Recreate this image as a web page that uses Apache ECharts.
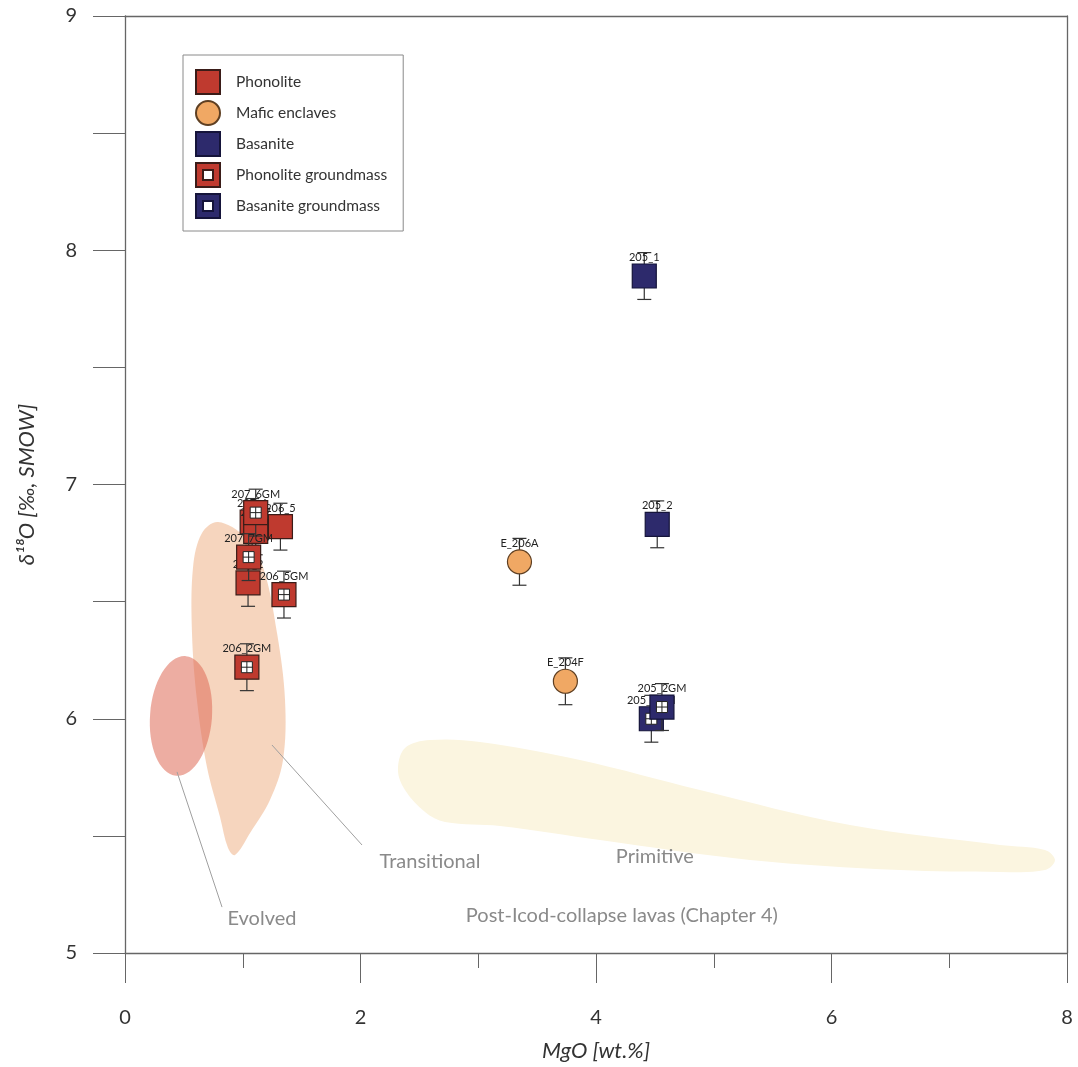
<!DOCTYPE html>
<html>
<head>
<meta charset="utf-8">
<script src="https://cdn.jsdelivr.net/npm/echarts@6/dist/echarts.min.js"></script>
<style>html,body{margin:0;padding:0;background:#fff}#c{width:1078px;height:1067px}</style>
</head>
<body>
<div id="c"></div>
<script>
// ---- data (MgO wt.%, d18O permil) ----
const phonoliteLabels = ['207_6', '207_7', '206_5', '207_2'];
const phonoliteMgO    = [1.08, 1.11, 1.32, 1.045];
const phonoliteD18O   = [6.84, 6.80, 6.82, 6.58];
const phonoliteErr    = [0.1, 0.1, 0.1, 0.1];

const phonoliteGMLabels = ['207_6GM', '207_7GM', '206_5GM', '206_2GM'];
const phonoliteGMMgO    = [1.11, 1.05, 1.35, 1.035];
const phonoliteGMD18O   = [6.88, 6.69, 6.53, 6.22];
const phonoliteGMErr    = [0.1, 0.1, 0.1, 0.1];

const maficLabels = ['E_206A', 'E_204F'];
const maficMgO    = [3.35, 3.74];
const maficD18O   = [6.67, 6.16];
const maficErr    = [0.1, 0.1];

const basaniteLabels = ['205_1', '205_2'];
const basaniteMgO    = [4.41, 4.52];
const basaniteD18O   = [7.89, 6.83];
const basaniteErr    = [0.1, 0.1];

const basaniteGMLabels = ['205_1GM', '205_2GM'];
const basaniteGMMgO    = [4.47, 4.56];
const basaniteGMD18O   = [6.00, 6.05];
const basaniteGMErr    = [0.1, 0.1];

// ---- field outlines (MgO, d18O) ----
const transitionalOutline = [
  [0.79,6.84],[1.02,6.776],[1.172,6.648],[1.291,6.366],[1.359,6.08],[1.342,5.824],
  [1.231,5.653],[1.062,5.512],[0.934,5.418],[0.875,5.448],[0.807,5.581],[0.696,5.794],
  [0.611,6.08],[0.569,6.366],[0.578,6.648],[0.654,6.793]
];
const primitiveOutline = [
  [2.318,5.781],[2.378,5.875],[2.59,5.909],[3.015,5.901],[3.864,5.824],[4.883,5.696],
  [6.157,5.546],[7.431,5.461],[7.813,5.44],[7.898,5.397],[7.813,5.354],[7.431,5.346],
  [6.582,5.354],[5.308,5.397],[4.034,5.482],[3.185,5.542],[2.718,5.559],[2.548,5.602],[2.378,5.696]
];
const evolvedCenter = [0.476, 6.012];
const evolvedRadii  = [0.263, 0.256];

const fieldLabels    = ['Transitional', 'Primitive', 'Evolved', 'Post-Icod-collapse lavas (Chapter 4)'];
const fieldLabelPos  = [[2.59,5.389],[4.50,5.41],[1.163,5.149],[4.22,5.162]];
const leaderLines    = [[[0.442,5.773],[0.824,5.196]], [[1.248,5.888],[2.013,5.461]]];

const FONT = 'Lato, "Open Sans", sans-serif';
const AX = '#666';

function pointSeries(name, labels, xs, ys, errs, kind, fill, stroke) {
  return {
    type: 'custom', name: name, coordinateSystem: 'cartesian2d',
    itemStyle: {color: fill, borderColor: stroke, borderWidth: 1.2},
    data: xs.map((x, i) => ({value: [x, ys[i]], name: labels[i]})),
    renderItem: function (params, api) {
      const i = params.dataIndex;
      const x = api.value(0), y = api.value(1);
      const p = api.coord([x, y]);
      const t = api.coord([x, y + errs[i]]);
      const b = api.coord([x, y - errs[i]]);
      const s = 24, h = s / 2, cap = 7;
      const ls = {stroke: '#333', lineWidth: 1.2};
      const ch = [
        {type: 'line', shape: {x1: p[0], y1: t[1], x2: p[0], y2: b[1]}, style: ls},
        {type: 'line', shape: {x1: p[0] - cap, y1: t[1], x2: p[0] + cap, y2: t[1]}, style: ls},
        {type: 'line', shape: {x1: p[0] - cap, y1: b[1], x2: p[0] + cap, y2: b[1]}, style: ls}
      ];
      if (kind === 'circle') {
        ch.push({type: 'circle', shape: {cx: p[0], cy: p[1], r: h}, style: {fill: fill, stroke: stroke, lineWidth: 1.2}});
      } else {
        ch.push({type: 'rect', shape: {x: p[0] - h, y: p[1] - h, width: s, height: s}, style: {fill: fill, stroke: stroke, lineWidth: 1.2}});
      }
      if (kind === 'gm') {
        const q = 5.5;
        ch.push({type: 'rect', shape: {x: p[0] - q, y: p[1] - q, width: 2 * q, height: 2 * q}, style: {fill: '#fff', stroke: '#222', lineWidth: 1}});
        ch.push({type: 'line', shape: {x1: p[0], y1: p[1] - q, x2: p[0], y2: p[1] + q}, style: {stroke: '#222', lineWidth: 1}});
        ch.push({type: 'line', shape: {x1: p[0] - q, y1: p[1], x2: p[0] + q, y2: p[1]}, style: {stroke: '#222', lineWidth: 1}});
      }
      ch.push({type: 'text', x: p[0], y: p[1] - h - 1,
        style: {text: labels[i], fill: '#222', fontSize: 11, fontFamily: FONT, align: 'center', verticalAlign: 'bottom'}});
      return {type: 'group', children: ch};
    }
  };
}

const RED = '#BF3A2F', RED_B = '#3a1c18';
const NAVY = '#2D2A6C', NAVY_B = '#15143a';
const ORANGE = '#F0A864', ORANGE_B = '#5e3f22';

const option = {
  animation: false,
  backgroundColor: '#fff',
  grid: {left: 125, right: 11, top: 16, bottom: 114},
  legend: {
    orient: 'vertical', left: 183, top: 55,
    padding: [14, 16, 12, 12], itemGap: 5, itemWidth: 24, itemHeight: 24,
    borderColor: '#8a8a8a', borderWidth: 1, backgroundColor: '#fff',
    textStyle: {fontSize: 15.5, color: '#333', fontFamily: FONT, padding: [0, 0, 0, 11]},
    selectedMode: false,
    data: [
      {name: 'Phonolite', icon: 'rect'},
      {name: 'Mafic enclaves', icon: 'circle'},
      {name: 'Basanite', icon: 'rect'},
      {name: 'Phonolite groundmass', icon: 'path://M0,0H24V24H0Z M7,7V17H17V7Z'},
      {name: 'Basanite groundmass', icon: 'path://M0,0H24V24H0Z M7,7V17H17V7Z'}
    ]
  },
  xAxis: [{
    type: 'value', min: 0, max: 8, interval: 2,
    axisLine: {show: true, onZero: false, lineStyle: {color: AX, width: 1.3}},
    axisTick: {show: true, length: 30, lineStyle: {color: AX, width: 1}},
    minorTick: {show: true, splitNumber: 2, length: 15, lineStyle: {color: AX, width: 1}},
    splitLine: {show: false}, minorSplitLine: {show: false},
    axisLabel: {margin: 55, fontSize: 20, color: '#333', fontFamily: FONT},
    name: 'MgO [wt.%]', nameLocation: 'middle', nameGap: 87,
    nameTextStyle: {fontSize: 22, fontStyle: 'italic', color: '#333', fontFamily: FONT}
  }, {
    type: 'value', position: 'top', min: 0, max: 8,
    axisLine: {show: true, onZero: false, lineStyle: {color: AX, width: 1.3}},
    axisTick: {show: false}, axisLabel: {show: false}, splitLine: {show: false}
  }],
  yAxis: [{
    type: 'value', min: 5, max: 9, interval: 1,
    axisLine: {show: true, onZero: false, lineStyle: {color: AX, width: 1.3}},
    axisTick: {show: true, length: 32, lineStyle: {color: AX, width: 1}},
    minorTick: {show: true, splitNumber: 2, length: 32, lineStyle: {color: AX, width: 1}},
    splitLine: {show: false}, minorSplitLine: {show: false},
    axisLabel: {margin: 48, fontSize: 20, color: '#333', fontFamily: FONT},
    name: 'δ¹⁸O [‰, SMOW]', nameLocation: 'middle', nameGap: 87, nameRotate: 90,
    nameTextStyle: {fontSize: 22, fontStyle: 'italic', color: '#333', fontFamily: FONT}
  }, {
    type: 'value', position: 'right', min: 5, max: 9,
    axisLine: {show: true, onZero: false, lineStyle: {color: AX, width: 1.3}},
    axisTick: {show: false}, axisLabel: {show: false}, splitLine: {show: false}
  }],
  series: [
    {
      type: 'custom', name: 'primitiveField', silent: true, coordinateSystem: 'cartesian2d',
      data: [[0, 0]],
      renderItem: function (params, api) {
        return {type: 'polygon', shape: {points: primitiveOutline.map(v => api.coord(v)), smooth: 0.35},
          style: {fill: '#FBF5E0'}};
      }
    },
    {
      type: 'custom', name: 'transitionalField', silent: true, coordinateSystem: 'cartesian2d',
      data: [[0, 0]],
      renderItem: function (params, api) {
        return {type: 'polygon', shape: {points: transitionalOutline.map(v => api.coord(v)), smooth: 0.35},
          style: {fill: 'rgba(238,178,136,0.55)'}};
      }
    },
    {
      type: 'custom', name: 'evolvedField', silent: true, coordinateSystem: 'cartesian2d',
      data: [[0, 0]],
      renderItem: function (params, api) {
        const c = api.coord(evolvedCenter);
        const r = api.size([evolvedRadii[0], evolvedRadii[1]]);
        return {type: 'ellipse', x: c[0], y: c[1], rotation: -0.08,
          shape: {cx: 0, cy: 0, rx: r[0], ry: r[1]},
          style: {fill: 'rgba(222,105,85,0.55)'}};
      }
    },
    {
      type: 'custom', name: 'fieldLabels', silent: true, coordinateSystem: 'cartesian2d',
      data: [[0, 0]],
      renderItem: function (params, api) {
        const ch = [];
        leaderLines.forEach(l => {
          const a = api.coord(l[0]), b = api.coord(l[1]);
          ch.push({type: 'line', shape: {x1: a[0], y1: a[1], x2: b[0], y2: b[1]}, style: {stroke: '#a0a0a0', lineWidth: 1}});
        });
        fieldLabels.forEach((t, i) => {
          const p = api.coord(fieldLabelPos[i]);
          ch.push({type: 'text', x: p[0], y: p[1],
            style: {text: t, fill: '#8a8a8a', fontSize: 20, fontFamily: FONT, align: 'center', verticalAlign: 'middle'}});
        });
        return {type: 'group', children: ch};
      }
    },
    pointSeries('Phonolite', phonoliteLabels, phonoliteMgO, phonoliteD18O, phonoliteErr, 'rect', RED, RED_B),
    pointSeries('Phonolite groundmass', phonoliteGMLabels, phonoliteGMMgO, phonoliteGMD18O, phonoliteGMErr, 'gm', RED, RED_B),
    pointSeries('Mafic enclaves', maficLabels, maficMgO, maficD18O, maficErr, 'circle', ORANGE, ORANGE_B),
    pointSeries('Basanite', basaniteLabels, basaniteMgO, basaniteD18O, basaniteErr, 'rect', NAVY, NAVY_B),
    pointSeries('Basanite groundmass', basaniteGMLabels, basaniteGMMgO, basaniteGMD18O, basaniteGMErr, 'gm', NAVY, NAVY_B)
  ]
};

const chart = echarts.init(document.getElementById('c'), null, {renderer: 'canvas'});
chart.setOption(option);
</script>
</body>
</html>
